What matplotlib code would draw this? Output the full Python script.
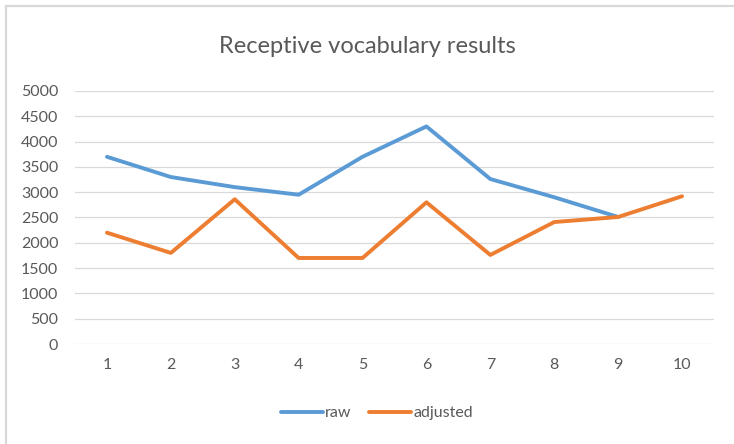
import numpy as np
import matplotlib
matplotlib.use('Agg')
import matplotlib.pyplot as plt
from matplotlib.patches import Rectangle

#---DATA---
trials = [1, 2, 3, 4, 5, 6, 7, 8, 9, 10]
raw = [3700, 3300, 3100, 2950, 3700, 4300, 3260, 2900, 2510, np.nan]
adjusted = [2200, 1800, 2860, 1700, 1700, 2800, 1760, 2410, 2510, 2920]
y_ticks = [0, 500, 1000, 1500, 2000, 2500, 3000, 3500, 4000, 4500, 5000]

colors = {'blue': '#5B9BD5', 'orange': '#ED7D31', 'grid': '#D9D9D9',
          'text': '#595959', 'border': '#D9D9D9'}

plt.rcParams['font.family'] = ['Lato', 'DejaVu Sans']

#---PREPARE TO PLOT---
W, H = 734, 444
fig = plt.figure(figsize=(W / 100, H / 100), dpi=100)
ax = fig.add_axes([75 / W, (H - 344) / H, (714 - 75) / W, (344 - 91) / H])

#outer chart border (runs off right and bottom edges)
fig.patches.append(Rectangle((6 / W, -0.1), 1.2, (H - 6) / H + 0.1,
                             transform=fig.transFigure, fill=False,
                             ec=colors['border'], lw=1.6, zorder=0))

#---PLOT---
ax.plot(trials, raw, color=colors['blue'], lw=2.8, label='raw',
        solid_capstyle='round', solid_joinstyle='round', zorder=3)
ax.plot(trials, adjusted, color=colors['orange'], lw=2.8, label='adjusted',
        solid_capstyle='round', solid_joinstyle='round', zorder=4)

#---FORMATTING---
ax.set_xlim(0.5, 10.5)
ax.set_ylim(0, 5000)
ax.set_xticks(trials)
ax.set_yticks(y_ticks)
ax.grid(axis='y', color=colors['grid'], lw=0.9)
ax.set_axisbelow(True)
ax.tick_params(length=0, labelsize=11.5, labelcolor=colors['text'])
ax.tick_params(axis='x', pad=10)
ax.tick_params(axis='y', pad=12)
for pos in ['right', 'top', 'left', 'bottom']:
    ax.spines[pos].set_visible(False)

fig.text(0.5, (H - 53) / H, 'Receptive vocabulary results', ha='center',
         va='baseline', fontsize=17, color=colors['text'])

ax.legend(loc='center', bbox_to_anchor=(377 / W, (H - 413) / H),
          bbox_transform=fig.transFigure, ncol=2, frameon=False,
          fontsize=11.5, handlelength=2.6, handletextpad=0.15,
          columnspacing=1.1, labelcolor=colors['text'])

fig.savefig('out.png', dpi=100)
